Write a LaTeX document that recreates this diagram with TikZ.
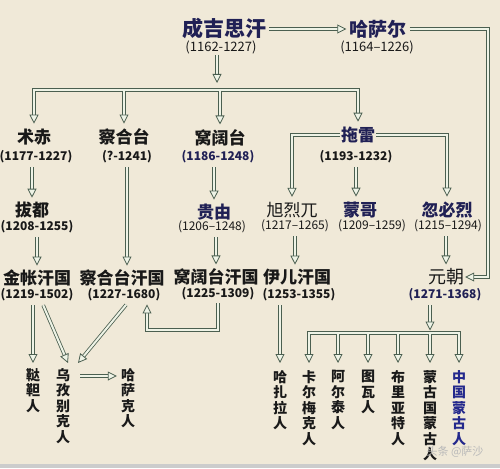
\documentclass[tikz,border=0pt]{standalone}
\usepackage{fontspec}
\setmainfont{Noto Sans CJK SC}
\usetikzlibrary{arrows.meta,calc}
\definecolor{bg}{RGB}{240,233,216}
\definecolor{edge}{RGB}{75,95,80}
\definecolor{pale}{RGB}{238,243,230}
\definecolor{navy}{RGB}{32,32,85}
\definecolor{ink}{RGB}{25,25,25}
\definecolor{blu}{RGB}{35,40,140}
\begin{document}
\begin{tikzpicture}[x=1pt,y=-1pt,
  tipa/.tip={Triangle[open,length=9pt,width=9pt,fill=pale,line width=0.8pt]},
  conn/.style={draw=edge, line width=0.8pt, double=pale, double distance=2pt},
  arr/.style={conn, -tipa},
  arrtwo/.style={conn, tipa-tipa},
  nm/.style={font=\bfseries\fontsize{17}{17}\selectfont, text=ink, inner sep=1pt},
  big/.style={font=\bfseries\fontsize{21}{21}\selectfont, text=navy, inner sep=1pt},
  dtb/.style={font=\bfseries\fontsize{12}{12}\selectfont, text=ink, inner sep=1pt},
  dtr/.style={font=\fontsize{12}{12}\selectfont, text=ink, inner sep=1pt},
  vt/.style={font=\bfseries\fontsize{14}{15.5}\selectfont, text=ink, align=center, anchor=north, inner sep=0pt}
]
\fill[bg] (0,0) rectangle (500,468);
\fill[gray!40] (0,464) rectangle (500,468);
\useasboundingbox (0,0) rectangle (500,468);

% top
\node[big] (cj) at (224,29) {成吉思汗};
\node[dtr, font=\fontsize{13}{13}\selectfont] (cjd) at (221,47) {(1162-1227)};
\node[big, font=\bfseries\fontsize{19}{19}\selectfont] (hs) at (378,29) {哈萨尔};
\node[dtr, font=\fontsize{13}{13}\selectfont] (hsd) at (377,47) {(1164–1226)};

% row 2
\node[nm] (zc) at (34,137) {术赤};
\node[dtb] (zcd) at (36,157) {(1177-1227)};
\node[nm] (chg) at (124,137) {察合台};
\node[dtb] (chgd) at (127,157) {(?-1241)};
\node[nm] (wk) at (220,138) {窝阔台};
\node[dtb, text=navy] (wkd) at (218,157) {(1186-1248)};
\node[nm, text=navy] (tl) at (358,135) {拖雷};
\node[dtb] (tld) at (356,157) {(1193-1232)};

% row 3
\node[nm] (bd) at (32,210) {拔都};
\node[dtb] (bdd) at (37,227) {(1208-1255)};
\node[nm, text=navy] (gy) at (214,212) {贵由};
\node[dtr] (gyd) at (212,227) {(1206–1248)};
\node[nm, font=\fontsize{17}{17}\selectfont] (xl) at (292,210) {旭烈兀};
\node[dtr] (xld) at (295,226) {(1217–1265)};
\node[nm, text=navy] (mg) at (360,210) {蒙哥};
\node[dtr] (mgd) at (372,226) {(1209–1259)};
\node[nm, text=navy] (hb) at (447,210) {忽必烈};
\node[dtr] (hbd) at (448,226) {(1215–1294)};

% row 4
\node[nm] (jz) at (37,278) {金帐汗国};
\node[dtb] (jzd) at (37,295) {(1219-1502)};
\node[nm] (chh) at (122,278) {察合台汗国};
\node[dtb] (chhd) at (124,295) {(1227-1680)};
\node[nm] (wkh) at (216,277) {窝阔台汗国};
\node[dtb] (wkhd) at (218,294) {(1225-1309)};
\node[nm] (ye) at (297,277) {伊儿汗国};
\node[dtb] (yed) at (299,295) {(1253-1355)};
\node[nm, font=\fontsize{18}{18}\selectfont] (yc) at (446,277) {元朝};
\node[dtb, text=navy] (ycd) at (445,295) {(1271-1368)};

% bottom vertical labels
\node[vt] (dd) at (33,368) {鞑\\靼\\人};
\node[vt] (wz) at (63,368) {乌\\孜\\别\\克\\人};
\node[vt] (hsk) at (128,368) {哈\\萨\\克\\人};
\node[vt] (hz) at (280,370) {哈\\扎\\拉\\人};
\node[vt] (km) at (309,370) {卡\\尔\\梅\\克\\人};
\node[vt] (at) at (338,370) {阿\\尔\\泰\\人};
\node[vt] (tw) at (368,370) {图\\瓦\\人};
\node[vt] (bl) at (398,370) {布\\里\\亚\\特\\人};
\node[vt] (mgg) at (430,370) {蒙\\古\\国\\蒙\\古\\人};
\node[vt, text=blu] (zgm) at (459,370) {中\\国\\蒙\\古\\人};

\node[font=\fontsize{11}{11}\selectfont, text=gray!55] (wm) at (455,452) {头条 @萨沙};

% coordinates
\coordinate (bar) at (217,90);
\coordinate (rc) at (488,30);
\coordinate (lp) at (147,330);
\coordinate (bartwo) at (430,333);

% connectors top
\draw[arr, shorten <=2pt, shorten >=2pt] (cj.east) -- (cj.east -| hs.west);
\draw[arr, shorten <=2pt] (hs.east) -- (hs.east -| rc) |- (yc.east);
\draw[arr, shorten >=7pt] (bar |- cjd.south) -- (bar);
\draw[arrtwo, shorten <=4pt, shorten >=4pt] (zc.north) |- (bar) -| (tl.north);
\draw[arr, shorten >=4pt] ([yshift=-1pt]chg.north |- bar) -- (chg.north);
\draw[arr, shorten >=4pt] ([yshift=-1pt]wk.north |- bar) -- (wk.north);

% row 2 -> row 3
\draw[arr, shorten <=3pt, shorten >=3pt] (bd.north |- zcd.south) -- (bd.north);
\draw[arr, shorten <=3pt, shorten >=3pt] (gy.north |- wkd.south) -- (gy.north);
\draw[arr, shorten >=4pt] (tl.west) -| (xl.north);
\draw[arr, shorten >=4pt] (tl.east) -| (hb.north);
\draw[arr, shorten <=3pt, shorten >=4pt] (tld.south) -- (tld.south |- mg.north);

% row 3 -> row 4
\draw[arr, shorten <=3pt, shorten >=3pt] (bdd.south -| jz.north) -- (jz.north);
\draw[arr, shorten <=3pt, shorten >=3pt] (chgd.south) -- (chgd.south |- chh.north);
\draw[arr, shorten <=3pt, shorten >=3pt] (gyd.south -| wkh.north) -- (wkh.north);
\draw[arr, shorten <=3pt, shorten >=3pt] (xld.south) -- (xld.south |- ye.north);
\draw[arr, shorten <=3pt, shorten >=3pt] (hbd.south -| yc.north) -- (yc.north);
\draw[arr, shorten <=2pt, shorten >=2pt] (wkhd.south) |- (lp) -- (lp |- chhd.south);

% row 4 -> peoples
\draw[arr, shorten <=3pt, shorten >=5pt] (jzd.south -| dd.north) -- (dd.north);
\draw[arr, shorten <=3pt] ([xshift=5pt]jzd.south) -- ([xshift=5pt,yshift=5pt]wz.north);
\draw[arr, shorten <=3pt] ([xshift=4pt]chhd.south) -- ([xshift=15pt,yshift=5pt]wz.north);
\draw[arr] ([xshift=10pt,yshift=-8pt]wz.north east) -- ([xshift=-4pt,yshift=-8pt]hsk.north west);
\draw[arr, shorten <=3pt, shorten >=7pt] (yed.south -| hz.north) -- (hz.north);
\draw[arr, shorten <=3pt, shorten >=2.5pt] (ycd.south -| bartwo) -- (bartwo);
\draw[arrtwo, shorten <=7pt, shorten >=7pt] (km.north) |- (bartwo) -| (zgm.north);
\foreach \n in {at,tw,bl,mgg}
  \draw[arr, shorten >=7pt] ([yshift=-1pt]\n.north |- bartwo) -- (\n.north);
\end{tikzpicture}
\end{document}
